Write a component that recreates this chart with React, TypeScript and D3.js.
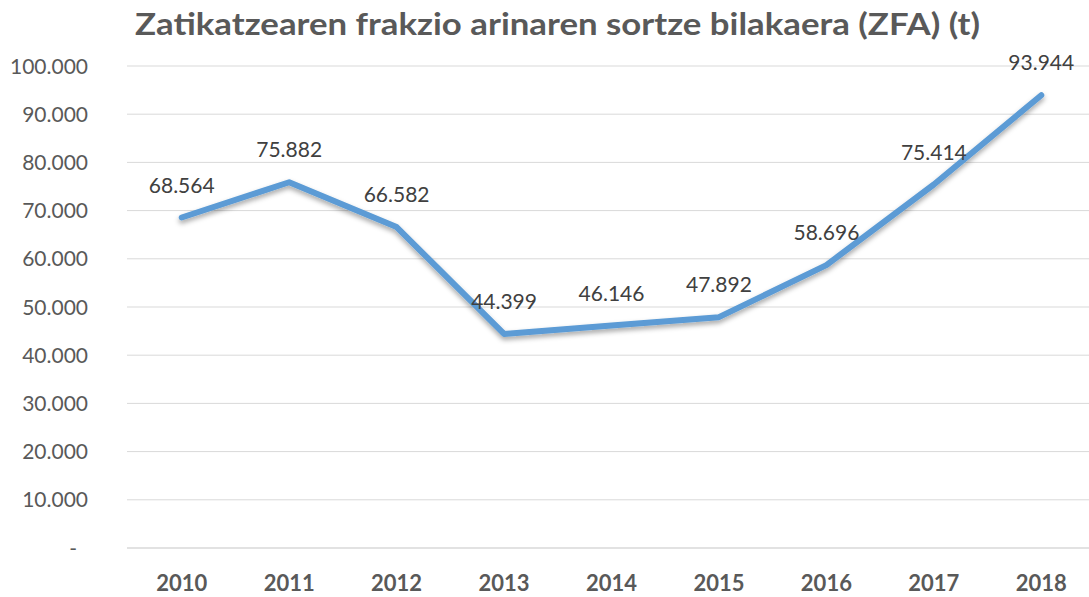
import React from "react";
import * as d3 from "d3";

const years = ["2010", "2011", "2012", "2013", "2014", "2015", "2016", "2017", "2018"];
const values = [68564, 75882, 66582, 44399, 46146, 47892, 58696, 75414, 93944];
const yTicks = [0, 10000, 20000, 30000, 40000, 50000, 60000, 70000, 80000, 90000, 100000];
const yTickLabels = ["-", "10.000", "20.000", "30.000", "40.000", "50.000", "60.000", "70.000", "80.000", "90.000", "100.000"];
const title = "Zatikatzearen frakzio arinaren sortze bilakaera (ZFA) (t)";

const W = 1089;
const H = 597;
const FONT = "Lato, 'Open Sans', sans-serif";

const fmt = (v: number) => d3.format(",")(v).replace(/,/g, ".");

export default function App() {
  const x = d3.scalePoint<string>().domain(years).range([128, 1095]).padding(0.5);
  const y = d3.scaleLinear().domain([0, 100000]).range([548, 66]);
  const line = d3
    .line<number>()
    .x((_, i) => x(years[i]) as number)
    .y((d) => y(d));

  return (
    <svg
      width={W}
      height={H}
      style={{ position: "absolute", left: 0, top: 0, background: "#fff" }}
      fontFamily={FONT}
    >
      <defs>
        <filter id="shadow" x="-10%" y="-10%" width="120%" height="130%">
          <feDropShadow dx="0" dy="3" stdDeviation="2.5" floodColor="#000" floodOpacity="0.35" />
        </filter>
      </defs>
      <rect width={W} height={H} fill="#fff" />
      <text
        x={135}
        y={35}
        textAnchor="start"
        fontSize={31}
        fontWeight="bold"
        fill="#595959"
        textLength={845}
        lengthAdjust="spacingAndGlyphs"
      >
        {title}
      </text>
      {yTicks.map((t, i) => (
        <g key={t}>
          <line
            x1={127}
            x2={W}
            y1={y(t)}
            y2={y(t)}
            stroke="#d9d9d9"
            strokeWidth={t === 0 ? 1.5 : 1}
          />
          <text
            x={t === 0 ? 77 : 88}
            y={y(t) + 7.5}
            textAnchor="end"
            fontSize={21}
            fill="#595959"
          >
            {yTickLabels[i]}
          </text>
        </g>
      ))}
      {years.map((yr) => (
        <text
          key={yr}
          x={x(yr)}
          y={591}
          textAnchor="middle"
          fontSize={22}
          fontWeight="bold"
          fill="#595959"
        >
          {yr}
        </text>
      ))}
      <path
        d={line(values) || ""}
        fill="none"
        stroke="#5B9BD5"
        strokeWidth={6}
        strokeLinejoin="round"
        strokeLinecap="round"
        filter="url(#shadow)"
      />
      {values.map((v, i) => (
        <text
          key={i}
          x={x(years[i])}
          y={y(v) - 25}
          textAnchor="middle"
          fontSize={21}
          fill="#404040"
        >
          {fmt(v)}
        </text>
      ))}
    </svg>
  );
}
